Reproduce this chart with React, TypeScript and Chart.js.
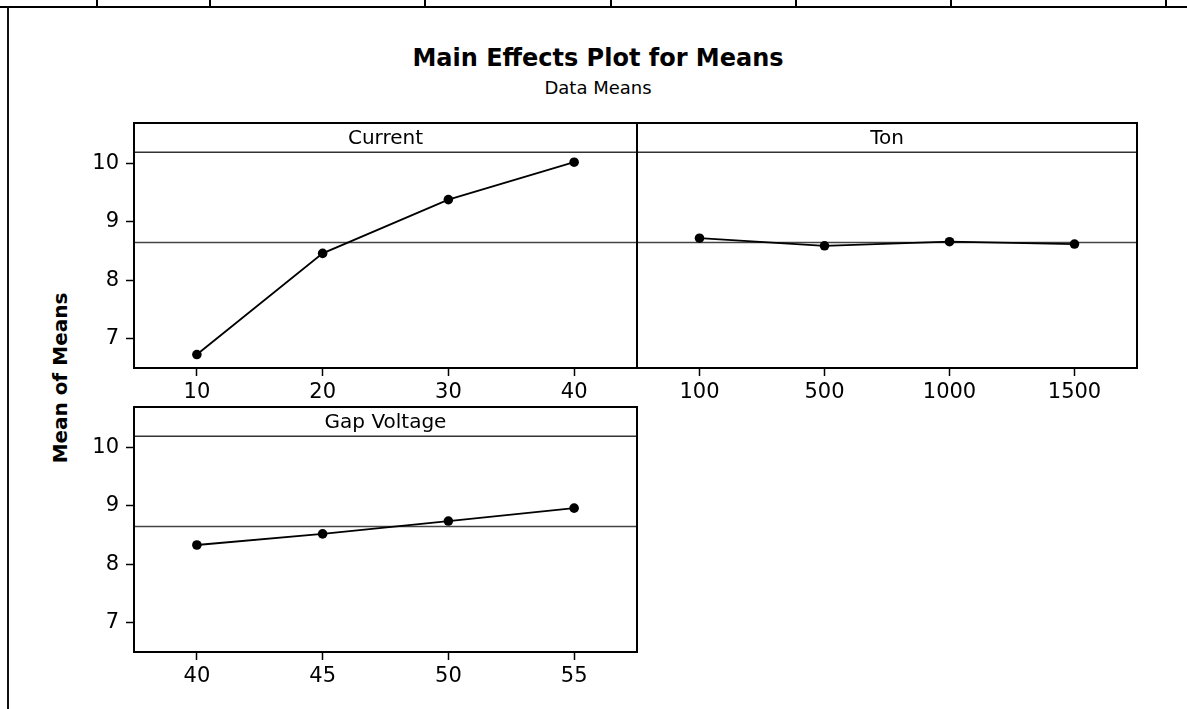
import React, { useEffect, useRef } from "react";
import { Chart, registerables } from "chart.js";

Chart.register(...registerables);

// ---- data ----
const levelPositions = [1, 2, 3, 4];
const currentLabels = ["10", "20", "30", "40"];
const currentMeans = [6.73, 8.46, 9.38, 10.02];
const tonLabels = ["100", "500", "1000", "1500"];
const tonMeans = [8.72, 8.59, 8.66, 8.62];
const gapLabels = ["40", "45", "50", "55"];
const gapMeans = [8.33, 8.52, 8.74, 8.96];
const grandMean = 8.645;
const yTicks = [7, 8, 9, 10];
const yMin = 6.5;
const yMax = 10.69;
const stripValue = 10.19;
const xMin = 0.5;
const xMax = 4.5;

const FONT = "'DejaVu Sans', Verdana, sans-serif";
const TICK_SIZE = 21;

const framePlugin = {
  id: "panelFrame",
  afterDraw(chart: any) {
    const { ctx, chartArea } = chart;
    const { left, top, right, bottom } = chartArea;
    const ys = chart.scales.y.getPixelForValue(stripValue);
    ctx.save();
    ctx.strokeStyle = "#333";
    ctx.lineWidth = 1.5;
    ctx.beginPath();
    ctx.moveTo(left, ys);
    ctx.lineTo(right, ys);
    ctx.stroke();
    ctx.fillStyle = "#000";
    ctx.font = `${TICK_SIZE - 1}px ${FONT}`;
    ctx.textAlign = "center";
    ctx.textBaseline = "middle";
    ctx.fillText(chart.options.plugins.panelFrame.title, (left + right) / 2, (top + ys) / 2 + 1);
    ctx.strokeStyle = "#000";
    ctx.lineWidth = 2;
    ctx.strokeRect(left, top, right - left, bottom - top);
    ctx.restore();
  },
};

function Panel(props: {
  title: string;
  labels: string[];
  values: number[];
  showY: boolean;
  left: number;
  top: number;
  width: number;
  height: number;
  padding: any;
}) {
  const ref = useRef<HTMLCanvasElement | null>(null);
  useEffect(() => {
    if (!ref.current) return;
    const { labels, values, title, showY } = props;
    const chart = new Chart(ref.current, {
      type: "line",
      data: {
        datasets: [
          {
            data: levelPositions.map((x, i) => ({ x, y: values[i] })),
            borderColor: "#000",
            borderWidth: 1.8,
            pointRadius: 4.8,
            pointBackgroundColor: "#000",
            pointBorderColor: "#000",
            pointBorderWidth: 0,
            tension: 0,
          },
          {
            data: [
              { x: xMin, y: grandMean },
              { x: xMax, y: grandMean },
            ],
            borderColor: "#444",
            borderWidth: 1.5,
            pointRadius: 0,
          },
        ],
      },
      options: {
        animation: false,
        responsive: false,
        devicePixelRatio: 1,
        layout: { padding: props.padding, autoPadding: false },
        plugins: {
          legend: { display: false },
          tooltip: { enabled: false },
          panelFrame: { title },
        } as any,
        scales: {
          x: {
            type: "linear",
            min: xMin,
            max: xMax,
            afterBuildTicks: (s: any) => {
              s.ticks = levelPositions.map((v) => ({ value: v }));
            },
            afterFit: (s: any) => {
              s.height = 40;
              s.paddingLeft = 0;
              s.paddingRight = 0;
            },
            ticks: {
              autoSkip: false,
              maxRotation: 0,
              padding: 4,
              color: "#000",
              font: { family: FONT, size: TICK_SIZE },
              callback: (v: any) => labels[levelPositions.indexOf(Number(v))],
            },
            grid: {
              display: true,
              drawOnChartArea: false,
              drawTicks: true,
              tickLength: 8,
              tickColor: "#000",
              tickWidth: 1.5,
              color: "#000",
            },
            border: { display: false },
          },
          y: {
            type: "linear",
            min: yMin,
            max: yMax,
            display: showY,
            afterBuildTicks: (s: any) => {
              s.ticks = yTicks.map((v) => ({ value: v }));
            },
            afterFit: (s: any) => {
              s.width = showY ? 60 : 0;
              s.paddingTop = 0;
              s.paddingBottom = 0;
            },
            ticks: {
              padding: 7,
              color: "#000",
              font: { family: FONT, size: TICK_SIZE },
            },
            grid: {
              display: true,
              drawOnChartArea: false,
              drawTicks: true,
              tickLength: 8,
              tickColor: "#000",
              tickWidth: 1.5,
              color: "#000",
            },
            border: { display: false },
          },
        },
      } as any,
      plugins: [framePlugin],
    });
    return () => chart.destroy();
  }, []);
  return (
    <canvas
      ref={ref}
      width={props.width}
      height={props.height}
      style={{ position: "absolute", left: props.left, top: props.top }}
    />
  );
}

const tableTicks = [97, 210, 425, 611, 796, 951, 1166];

export default function App() {
  return (
    <div
      style={{
        position: "absolute",
        left: 0,
        top: 0,
        width: 1187,
        height: 709,
        background: "#fff",
        overflow: "hidden",
        fontFamily: FONT,
      }}
    >
      <div style={{ position: "absolute", left: 0, top: 6, width: 1187, height: 2, background: "#000" }} />
      {tableTicks.map((x) => (
        <div key={x} style={{ position: "absolute", left: x - 1, top: 0, width: 2, height: 7, background: "#000" }} />
      ))}
      <div style={{ position: "absolute", left: 7, top: 7, width: 2, height: 702, background: "#111" }} />

      <div
        style={{
          position: "absolute",
          left: 298,
          width: 600,
          top: 43,
          textAlign: "center",
          fontWeight: "bold",
          fontSize: 24,
          lineHeight: "30px",
          color: "#000",
        }}
      >
        Main Effects Plot for Means
      </div>
      <div
        style={{
          position: "absolute",
          left: 298,
          width: 600,
          top: 77,
          textAlign: "center",
          fontSize: 18,
          lineHeight: "22px",
          color: "#000",
        }}
      >
        Data Means
      </div>
      <div
        style={{
          position: "absolute",
          left: 60 - 100,
          top: 378 - 13,
          width: 200,
          height: 26,
          lineHeight: "26px",
          textAlign: "center",
          fontWeight: "bold",
          fontSize: 20,
          transform: "rotate(-90deg)",
          color: "#000",
        }}
      >
        Mean of Means
      </div>

      <Panel
        title="Current"
        labels={currentLabels}
        values={currentMeans}
        showY={true}
        left={74}
        top={121}
        width={565}
        height={287}
        padding={{ top: 2, right: 2, left: 0, bottom: 0 }}
      />
      <Panel
        title="Ton"
        labels={tonLabels}
        values={tonMeans}
        showY={false}
        left={635}
        top={121}
        width={504}
        height={287}
        padding={{ top: 2, right: 2, left: 2, bottom: 0 }}
      />
      <Panel
        title="Gap Voltage"
        labels={gapLabels}
        values={gapMeans}
        showY={true}
        left={74}
        top={405}
        width={565}
        height={287}
        padding={{ top: 2, right: 2, left: 0, bottom: 0 }}
      />
    </div>
  );
}
